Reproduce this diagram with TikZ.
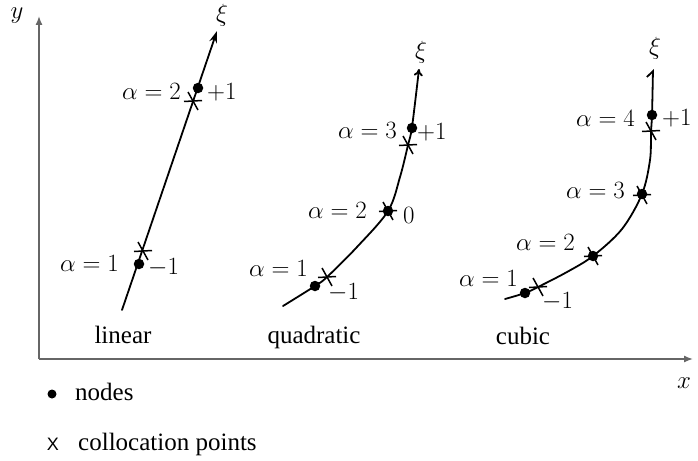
\documentclass[tikz,border=0pt]{standalone}
\usepackage{fontspec}
\setmainfont{Liberation Serif}
\newfontfamily\sansf{Liberation Sans}
\usetikzlibrary{arrows.meta}
\tikzset{
  axis/.style={draw=black!60, line width=1.4pt, -{Latex[length=9pt,width=7pt]}},
  curve/.style={line width=1.8pt, line cap=round},
  ndot/.style={circle, fill=black, inner sep=0pt, minimum size=10.5pt},
  markline/.style={line width=1.5pt},
  cmark/.pic={\draw[markline] (-9,0.5)--(9,-0.5); \draw[markline] (-5,-9)--(5,9);},
  lab/.style={inner sep=0pt, font=\fontsize{25}{30}\selectfont},
}
\begin{document}
\begin{tikzpicture}[x=1pt,y=-1pt]
\useasboundingbox (0,0) rectangle (698,460);
% axes
\coordinate (O) at (39,359);
\coordinate (Ytip) at (39,16);
\coordinate (Xtip) at (693,359);
\draw[axis] (O) -- (Ytip);
\draw[axis] (O) -- (Xtip);
\node[lab] (ylab) at (17,16) {$y$};
\node[lab, anchor=base] (xlab) at (684,388) {$x$};

% ---------- linear ----------
\coordinate (ls) at (122,310);
\coordinate (le) at (217,31);
\draw[curve, -{Stealth[length=12pt,width=8pt]}] (ls) -- (le);
\node[ndot] (l1) at (139,264) {};
\node[ndot] (l2) at (198,88) {};
\pic at (143,251) {cmark};
\pic at (193,101) {cmark};
\node[lab] (lxi) at (222,15) {$\xi$};
\node[lab, anchor=east] (la2) at (181,91) {$\alpha=2$};
\node[lab, anchor=west] (lp1) at (207,92) {$+1$};
\node[lab, anchor=east] (la1) at (119,263) {$\alpha=1$};
\node[lab, anchor=west] (lm1) at (148,268) {$-1$};
\node[lab, anchor=base] (lname) at (123,343) {linear};

% ---------- quadratic ----------
\draw[curve, -{To[length=7pt,width=9pt]}] plot[smooth, tension=0.55] coordinates
  {(283,306) (315,286) (327,277) (357,247) (388,211) (400,177) (408,145) (412,127) (419,69)};
\node[ndot] (q1) at (315,286) {};
\node[ndot] (q2) at (388,211) {};
\node[ndot] (q3) at (412,128) {};
\pic at (327,277) {cmark};
\pic at (388,211) {cmark};
\pic at (408,145) {cmark};
\node[lab] (qxi) at (421,52) {$\xi$};
\node[lab, anchor=east] (qa3) at (397,130) {$\alpha=3$};
\node[lab, anchor=west] (qp1) at (417,132) {$+1$};
\node[lab, anchor=east] (qa2) at (367,210) {$\alpha=2$};
\node[lab, anchor=west] (q0) at (403,215) {$0$};
\node[lab, anchor=east] (qa1) at (308,268) {$\alpha=1$};
\node[lab, anchor=west] (qm1) at (328,293) {$-1$};
\node[lab, anchor=base] (qname) at (314,343) {quadratic};

% ---------- cubic ----------
\draw[curve, -{Straight Barb[left,length=6pt,width=12pt]}] plot[smooth, tension=0.55] coordinates
  {(505,299) (525,293) (538,287) (567,272) (593,256) (622,229) (642,194) (650,160) (651,132) (652,115) (653,69)};
\node[ndot] (c1) at (525,293) {};
\node[ndot] (c2) at (593,256) {};
\node[ndot] (c3) at (642,194) {};
\node[ndot] (c4) at (652,115) {};
\pic at (538,287) {cmark};
\pic at (593,256) {cmark};
\pic at (642,195) {cmark};
\pic at (651,131) {cmark};
\node[lab] (cxi) at (655,48) {$\xi$};
\node[lab, anchor=east] (ca4) at (635,118) {$\alpha=4$};
\node[lab, anchor=west] (cp1) at (662,118) {$+1$};
\node[lab, anchor=east] (ca3) at (625,190) {$\alpha=3$};
\node[lab, anchor=east] (ca2) at (575,242) {$\alpha=2$};
\node[lab, anchor=east] (ca1) at (518,278) {$\alpha=1$};
\node[lab, anchor=west] (cm1) at (542,302) {$-1$};
\node[lab, anchor=base] (cname) at (523,344) {cubic};

% ---------- legend ----------
\node[circle, fill=black, inner sep=0pt, minimum size=9pt] (legdot) at (52,394) {};
\node[lab, anchor=base west] (legnodes) at (75,400) {nodes};
\node[inner sep=0pt, anchor=base, font=\sansf\fontsize{18}{20}\selectfont] (legx) at (53,450) {X};
\node[lab, anchor=base west] (legcol) at (78,450) {collocation points};
\end{tikzpicture}
\end{document}
